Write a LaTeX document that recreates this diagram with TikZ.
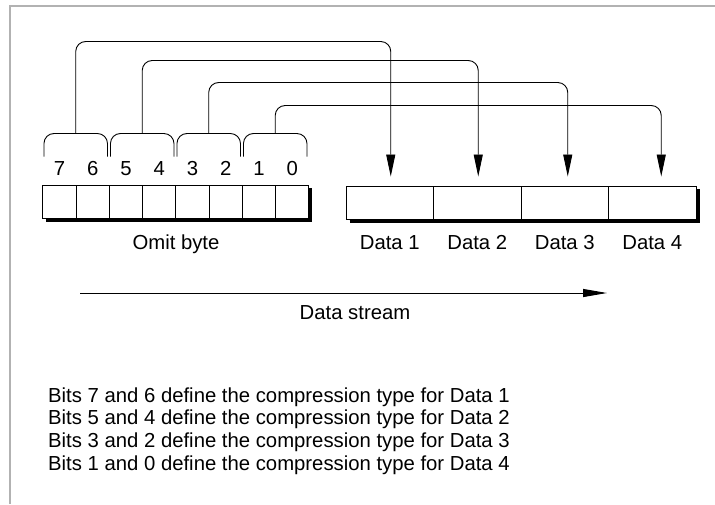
\documentclass[tikz,border=0pt]{standalone}
\usepackage{fontspec}
\setmainfont{Liberation Sans}
\usetikzlibrary{calc}
\usetikzlibrary{arrows.meta}

\begin{document}
\begin{tikzpicture}[x=1pt, y=-1pt, font=\fontsize{20.3}{23}\selectfont,
  cell/.style={draw, line width=1pt, inner sep=0, minimum height=33pt},
  link/.style={line width=.9pt, rounded corners=10pt},
  >={Triangle[length=22pt,width=9pt]}]
\useasboundingbox (0,0) rectangle (715,504);
\draw[black!30, line width=1.5pt] (10,504)--(10,6)--(715,6);

% omit byte
\foreach \i in {0,...,7} {
 \pgfmathtruncatemacro{\bit}{7-\i}
 \node[cell, minimum width=33.25pt] (b\i) at ({59.6+33.25*\i},201.5) {};
 \node[anchor=base] (d\i) at ({59.6+33.25*\i},175) {\bit};
}
\draw[line width=3pt] ($(b0.south west)+(4,1.5)$) -| ($(b7.north east)+(1.5,3)$);
\node[anchor=base] (omit) at (176,249) {Omit byte};

% data fields
\foreach \k in {1,...,4} {
 \node[cell, minimum width=87.5pt] (c\k) at ({346+87.5*(\k-0.5)},202.5) {};
 \node[anchor=base] (l\k) at ({346+87.5*(\k-0.5)},249) {Data \k};
}
\draw[line width=3pt] ($(c1.south west)+(4,1.5)$) -| ($(c4.north east)+(1.5,3)$);

% brackets and links
\foreach \k/\p/\q/\ly/\dx in {1/0/1/42/1, 2/2/3/61/1, 3/4/5/83/3, 4/6/7/106/9} {
 \draw[link] ($(b\p.north west)+(1.5,-28)$) -- ++(0,-23) -| ($(b\q.north east)+(-2.5,-28)$);
 \coordinate (g\k) at ($(b\p.north west)!.5!(b\q.north east)+(-0.5,-51)$);
 \coordinate (h\k) at ($(c\k.north)+(\dx,-9)$);
 \draw[link,->] (g\k) -- ++(0,{\ly-134}) -| (h\k);
}

% stream
\coordinate (s0) at (80,293);
\coordinate (s1) at (607,293);
\draw[line width=1pt, -{Triangle[length=24pt,width=8pt]}] (s0) -- (s1);
\node[anchor=base] (stream) at (355,319) {Data stream};

\foreach \p/\q/\n in {7/6/1, 5/4/2, 3/2/3, 1/0/4} {
 \node[anchor=base west, inner sep=0] (t\n) at (48,{402+22.7*(\n-1)}) {Bits \p\ and \q\ define the compression type for Data \n};
}
\end{tikzpicture}
\end{document}
